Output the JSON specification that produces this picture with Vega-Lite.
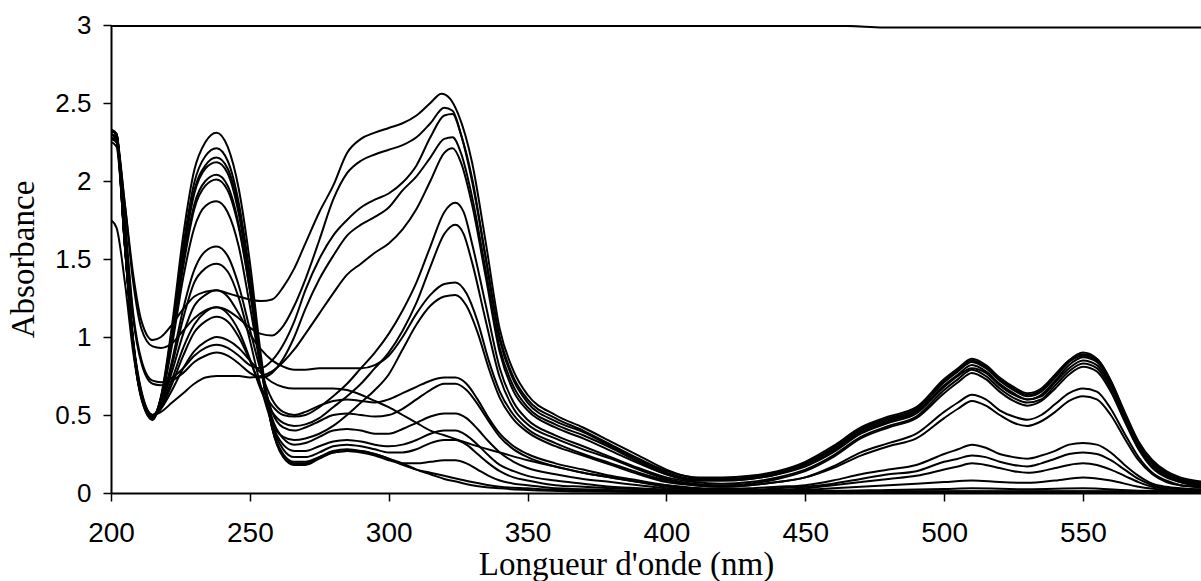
{
  "$schema": "https://vega.github.io/schema/vega-lite/v6.json",
  "width": 1090,
  "height": 468,
  "autosize": {"type": "none"},
  "padding": {"left": 111, "top": 25, "right": 0, "bottom": 88},
  "background": "white",
  "config": {"view": {"stroke": null}},
  "data": {"values": [
    {"s":"c0","w":200,"a":2.994},{"s":"c0","w":465,"a":2.994},{"s":"c0","w":478,"a":2.984},{"s":"c0","w":595,"a":2.984},

    {"s":"c1","w":200,"a":2.3},{"s":"c1","w":202,"a":2.28},{"s":"c1","w":205,"a":1.6},{"s":"c1","w":208,"a":0.95},{"s":"c1","w":211,"a":0.61},{"s":"c1","w":215,"a":0.48},{"s":"c1","w":218,"a":0.62},{"s":"c1","w":222,"a":1.08},{"s":"c1","w":226,"a":1.65},{"s":"c1","w":230,"a":2.07},{"s":"c1","w":234,"a":2.25},{"s":"c1","w":238,"a":2.31},{"s":"c1","w":242,"a":2.22},{"s":"c1","w":246,"a":1.95},{"s":"c1","w":250,"a":1.48},{"s":"c1","w":254,"a":0.88},{"s":"c1","w":258,"a":0.42},{"s":"c1","w":262,"a":0.23},{"s":"c1","w":266,"a":0.18},{"s":"c1","w":270,"a":0.18},{"s":"c1","w":275,"a":0.22},{"s":"c1","w":280,"a":0.26},{"s":"c1","w":285,"a":0.27},{"s":"c1","w":290,"a":0.27},{"s":"c1","w":295,"a":0.25},{"s":"c1","w":300,"a":0.22},{"s":"c1","w":305,"a":0.19},{"s":"c1","w":310,"a":0.15},{"s":"c1","w":315,"a":0.12},{"s":"c1","w":320,"a":0.09},{"s":"c1","w":325,"a":0.07},{"s":"c1","w":330,"a":0.05},{"s":"c1","w":340,"a":0.03},{"s":"c1","w":350,"a":0.02},{"s":"c1","w":370,"a":0.01},{"s":"c1","w":400,"a":0.005},{"s":"c1","w":595,"a":0.005},

    {"s":"c2","w":200,"a":2.27},{"s":"c2","w":202,"a":2.25},{"s":"c2","w":205,"a":1.58},{"s":"c2","w":208,"a":0.94},{"s":"c2","w":211,"a":0.6},{"s":"c2","w":215,"a":0.47},{"s":"c2","w":218,"a":0.61},{"s":"c2","w":222,"a":1.05},{"s":"c2","w":226,"a":1.58},{"s":"c2","w":230,"a":1.99},{"s":"c2","w":234,"a":2.16},{"s":"c2","w":238,"a":2.21},{"s":"c2","w":242,"a":2.13},{"s":"c2","w":246,"a":1.86},{"s":"c2","w":250,"a":1.4},{"s":"c2","w":254,"a":0.84},{"s":"c2","w":258,"a":0.42},{"s":"c2","w":262,"a":0.24},{"s":"c2","w":266,"a":0.19},{"s":"c2","w":270,"a":0.19},{"s":"c2","w":275,"a":0.23},{"s":"c2","w":280,"a":0.27},{"s":"c2","w":285,"a":0.28},{"s":"c2","w":290,"a":0.27},{"s":"c2","w":295,"a":0.25},{"s":"c2","w":300,"a":0.22},{"s":"c2","w":305,"a":0.18},{"s":"c2","w":310,"a":0.15},{"s":"c2","w":315,"a":0.13},{"s":"c2","w":320,"a":0.11},{"s":"c2","w":325,"a":0.09},{"s":"c2","w":330,"a":0.07},{"s":"c2","w":340,"a":0.04},{"s":"c2","w":350,"a":0.03},{"s":"c2","w":370,"a":0.015},{"s":"c2","w":400,"a":0.01},{"s":"c2","w":595,"a":0.01},

    {"s":"c3","w":200,"a":2.33},{"s":"c3","w":202,"a":2.3},{"s":"c3","w":205,"a":1.6},{"s":"c3","w":208,"a":0.95},{"s":"c3","w":211,"a":0.61},{"s":"c3","w":215,"a":0.47},{"s":"c3","w":218,"a":0.6},{"s":"c3","w":222,"a":1.02},{"s":"c3","w":226,"a":1.54},{"s":"c3","w":230,"a":1.94},{"s":"c3","w":234,"a":2.1},{"s":"c3","w":238,"a":2.15},{"s":"c3","w":242,"a":2.08},{"s":"c3","w":246,"a":1.82},{"s":"c3","w":250,"a":1.37},{"s":"c3","w":254,"a":0.82},{"s":"c3","w":258,"a":0.42},{"s":"c3","w":262,"a":0.25},{"s":"c3","w":266,"a":0.2},{"s":"c3","w":270,"a":0.2},{"s":"c3","w":275,"a":0.23},{"s":"c3","w":280,"a":0.26},{"s":"c3","w":285,"a":0.27},{"s":"c3","w":290,"a":0.26},{"s":"c3","w":295,"a":0.24},{"s":"c3","w":300,"a":0.21},{"s":"c3","w":305,"a":0.19},{"s":"c3","w":310,"a":0.19},{"s":"c3","w":315,"a":0.2},{"s":"c3","w":320,"a":0.21},{"s":"c3","w":324,"a":0.21},{"s":"c3","w":328,"a":0.19},{"s":"c3","w":332,"a":0.15},{"s":"c3","w":336,"a":0.11},{"s":"c3","w":340,"a":0.08},{"s":"c3","w":345,"a":0.06},{"s":"c3","w":350,"a":0.05},{"s":"c3","w":360,"a":0.03},{"s":"c3","w":380,"a":0.02},{"s":"c3","w":400,"a":0.012},{"s":"c3","w":595,"a":0.012},

    {"s":"c4","w":200,"a":2.3},{"s":"c4","w":202,"a":2.28},{"s":"c4","w":205,"a":1.6},{"s":"c4","w":208,"a":0.95},{"s":"c4","w":211,"a":0.62},{"s":"c4","w":215,"a":0.48},{"s":"c4","w":218,"a":0.61},{"s":"c4","w":222,"a":1.02},{"s":"c4","w":226,"a":1.53},{"s":"c4","w":230,"a":1.92},{"s":"c4","w":234,"a":2.08},{"s":"c4","w":238,"a":2.12},{"s":"c4","w":242,"a":2.05},{"s":"c4","w":246,"a":1.79},{"s":"c4","w":250,"a":1.35},{"s":"c4","w":254,"a":0.82},{"s":"c4","w":258,"a":0.44},{"s":"c4","w":262,"a":0.28},{"s":"c4","w":266,"a":0.23},{"s":"c4","w":270,"a":0.23},{"s":"c4","w":275,"a":0.26},{"s":"c4","w":280,"a":0.3},{"s":"c4","w":285,"a":0.31},{"s":"c4","w":290,"a":0.3},{"s":"c4","w":295,"a":0.28},{"s":"c4","w":300,"a":0.26},{"s":"c4","w":305,"a":0.26},{"s":"c4","w":310,"a":0.28},{"s":"c4","w":315,"a":0.32},{"s":"c4","w":320,"a":0.34},{"s":"c4","w":324,"a":0.34},{"s":"c4","w":328,"a":0.31},{"s":"c4","w":332,"a":0.25},{"s":"c4","w":336,"a":0.19},{"s":"c4","w":340,"a":0.14},{"s":"c4","w":345,"a":0.1},{"s":"c4","w":350,"a":0.08},{"s":"c4","w":360,"a":0.05},{"s":"c4","w":370,"a":0.04},{"s":"c4","w":380,"a":0.03},{"s":"c4","w":400,"a":0.02},{"s":"c4","w":420,"a":0.012},{"s":"c4","w":460,"a":0.014},{"s":"c4","w":480,"a":0.02},{"s":"c4","w":500,"a":0.025},{"s":"c4","w":510,"a":0.03},{"s":"c4","w":530,"a":0.024},{"s":"c4","w":550,"a":0.03},{"s":"c4","w":570,"a":0.014},{"s":"c4","w":595,"a":0.01},

    {"s":"c5","w":200,"a":2.28},{"s":"c5","w":202,"a":2.26},{"s":"c5","w":205,"a":1.58},{"s":"c5","w":208,"a":0.95},{"s":"c5","w":211,"a":0.62},{"s":"c5","w":215,"a":0.48},{"s":"c5","w":218,"a":0.6},{"s":"c5","w":222,"a":0.99},{"s":"c5","w":226,"a":1.48},{"s":"c5","w":230,"a":1.85},{"s":"c5","w":234,"a":2.0},{"s":"c5","w":238,"a":2.04},{"s":"c5","w":242,"a":1.97},{"s":"c5","w":246,"a":1.72},{"s":"c5","w":250,"a":1.3},{"s":"c5","w":254,"a":0.8},{"s":"c5","w":258,"a":0.45},{"s":"c5","w":262,"a":0.31},{"s":"c5","w":266,"a":0.27},{"s":"c5","w":270,"a":0.27},{"s":"c5","w":275,"a":0.3},{"s":"c5","w":280,"a":0.33},{"s":"c5","w":285,"a":0.34},{"s":"c5","w":290,"a":0.33},{"s":"c5","w":295,"a":0.31},{"s":"c5","w":300,"a":0.3},{"s":"c5","w":305,"a":0.31},{"s":"c5","w":310,"a":0.34},{"s":"c5","w":315,"a":0.38},{"s":"c5","w":320,"a":0.4},{"s":"c5","w":324,"a":0.4},{"s":"c5","w":328,"a":0.37},{"s":"c5","w":332,"a":0.31},{"s":"c5","w":336,"a":0.24},{"s":"c5","w":340,"a":0.18},{"s":"c5","w":345,"a":0.14},{"s":"c5","w":350,"a":0.11},{"s":"c5","w":360,"a":0.08},{"s":"c5","w":370,"a":0.06},{"s":"c5","w":380,"a":0.04},{"s":"c5","w":390,"a":0.03},{"s":"c5","w":400,"a":0.02},{"s":"c5","w":420,"a":0.012},{"s":"c5","w":440,"a":0.015},{"s":"c5","w":460,"a":0.03},{"s":"c5","w":470,"a":0.04},{"s":"c5","w":480,"a":0.05},{"s":"c5","w":490,"a":0.06},{"s":"c5","w":500,"a":0.07},{"s":"c5","w":510,"a":0.08},{"s":"c5","w":520,"a":0.07},{"s":"c5","w":530,"a":0.065},{"s":"c5","w":540,"a":0.08},{"s":"c5","w":550,"a":0.1},{"s":"c5","w":560,"a":0.08},{"s":"c5","w":570,"a":0.04},{"s":"c5","w":580,"a":0.02},{"s":"c5","w":595,"a":0.01},

    {"s":"c6","w":200,"a":2.32},{"s":"c6","w":202,"a":2.3},{"s":"c6","w":205,"a":1.62},{"s":"c6","w":208,"a":0.97},{"s":"c6","w":211,"a":0.63},{"s":"c6","w":215,"a":0.49},{"s":"c6","w":218,"a":0.6},{"s":"c6","w":222,"a":0.98},{"s":"c6","w":226,"a":1.45},{"s":"c6","w":230,"a":1.82},{"s":"c6","w":234,"a":1.97},{"s":"c6","w":238,"a":2.01},{"s":"c6","w":242,"a":1.94},{"s":"c6","w":246,"a":1.7},{"s":"c6","w":250,"a":1.3},{"s":"c6","w":254,"a":0.82},{"s":"c6","w":258,"a":0.48},{"s":"c6","w":262,"a":0.35},{"s":"c6","w":266,"a":0.31},{"s":"c6","w":270,"a":0.32},{"s":"c6","w":275,"a":0.36},{"s":"c6","w":280,"a":0.4},{"s":"c6","w":285,"a":0.41},{"s":"c6","w":290,"a":0.4},{"s":"c6","w":295,"a":0.38},{"s":"c6","w":300,"a":0.38},{"s":"c6","w":305,"a":0.41},{"s":"c6","w":310,"a":0.45},{"s":"c6","w":315,"a":0.49},{"s":"c6","w":320,"a":0.51},{"s":"c6","w":324,"a":0.51},{"s":"c6","w":328,"a":0.48},{"s":"c6","w":332,"a":0.41},{"s":"c6","w":336,"a":0.33},{"s":"c6","w":340,"a":0.26},{"s":"c6","w":345,"a":0.2},{"s":"c6","w":350,"a":0.16},{"s":"c6","w":360,"a":0.12},{"s":"c6","w":370,"a":0.09},{"s":"c6","w":380,"a":0.07},{"s":"c6","w":390,"a":0.05},{"s":"c6","w":400,"a":0.03},{"s":"c6","w":420,"a":0.02},{"s":"c6","w":440,"a":0.02},{"s":"c6","w":450,"a":0.03},{"s":"c6","w":460,"a":0.05},{"s":"c6","w":470,"a":0.07},{"s":"c6","w":480,"a":0.09},{"s":"c6","w":490,"a":0.11},{"s":"c6","w":500,"a":0.15},{"s":"c6","w":505,"a":0.17},{"s":"c6","w":510,"a":0.19},{"s":"c6","w":515,"a":0.18},{"s":"c6","w":520,"a":0.16},{"s":"c6","w":525,"a":0.14},{"s":"c6","w":530,"a":0.13},{"s":"c6","w":535,"a":0.14},{"s":"c6","w":540,"a":0.16},{"s":"c6","w":545,"a":0.18},{"s":"c6","w":550,"a":0.19},{"s":"c6","w":555,"a":0.18},{"s":"c6","w":560,"a":0.15},{"s":"c6","w":565,"a":0.11},{"s":"c6","w":570,"a":0.07},{"s":"c6","w":575,"a":0.04},{"s":"c6","w":580,"a":0.03},{"s":"c6","w":595,"a":0.02},

    {"s":"c7","w":200,"a":2.3},{"s":"c7","w":202,"a":2.28},{"s":"c7","w":205,"a":1.6},{"s":"c7","w":208,"a":0.96},{"s":"c7","w":211,"a":0.62},{"s":"c7","w":215,"a":0.49},{"s":"c7","w":218,"a":0.6},{"s":"c7","w":222,"a":0.95},{"s":"c7","w":226,"a":1.38},{"s":"c7","w":230,"a":1.7},{"s":"c7","w":234,"a":1.84},{"s":"c7","w":238,"a":1.87},{"s":"c7","w":242,"a":1.8},{"s":"c7","w":246,"a":1.58},{"s":"c7","w":250,"a":1.2},{"s":"c7","w":254,"a":0.8},{"s":"c7","w":258,"a":0.52},{"s":"c7","w":262,"a":0.42},{"s":"c7","w":266,"a":0.4},{"s":"c7","w":270,"a":0.42},{"s":"c7","w":275,"a":0.46},{"s":"c7","w":280,"a":0.5},{"s":"c7","w":285,"a":0.51},{"s":"c7","w":290,"a":0.5},{"s":"c7","w":295,"a":0.49},{"s":"c7","w":300,"a":0.5},{"s":"c7","w":305,"a":0.54},{"s":"c7","w":310,"a":0.6},{"s":"c7","w":315,"a":0.66},{"s":"c7","w":320,"a":0.7},{"s":"c7","w":324,"a":0.7},{"s":"c7","w":328,"a":0.66},{"s":"c7","w":332,"a":0.57},{"s":"c7","w":336,"a":0.46},{"s":"c7","w":340,"a":0.36},{"s":"c7","w":345,"a":0.28},{"s":"c7","w":350,"a":0.23},{"s":"c7","w":360,"a":0.17},{"s":"c7","w":370,"a":0.13},{"s":"c7","w":380,"a":0.1},{"s":"c7","w":390,"a":0.07},{"s":"c7","w":400,"a":0.04},{"s":"c7","w":410,"a":0.03},{"s":"c7","w":420,"a":0.02},{"s":"c7","w":430,"a":0.02},{"s":"c7","w":440,"a":0.03},{"s":"c7","w":450,"a":0.04},{"s":"c7","w":460,"a":0.06},{"s":"c7","w":470,"a":0.09},{"s":"c7","w":480,"a":0.12},{"s":"c7","w":490,"a":0.14},{"s":"c7","w":500,"a":0.2},{"s":"c7","w":505,"a":0.22},{"s":"c7","w":510,"a":0.24},{"s":"c7","w":515,"a":0.23},{"s":"c7","w":520,"a":0.2},{"s":"c7","w":525,"a":0.18},{"s":"c7","w":530,"a":0.17},{"s":"c7","w":535,"a":0.19},{"s":"c7","w":540,"a":0.22},{"s":"c7","w":545,"a":0.25},{"s":"c7","w":550,"a":0.26},{"s":"c7","w":555,"a":0.25},{"s":"c7","w":560,"a":0.21},{"s":"c7","w":565,"a":0.15},{"s":"c7","w":570,"a":0.09},{"s":"c7","w":575,"a":0.05},{"s":"c7","w":580,"a":0.03},{"s":"c7","w":595,"a":0.02},

    {"s":"c8","w":200,"a":2.32},{"s":"c8","w":202,"a":2.3},{"s":"c8","w":205,"a":1.6},{"s":"c8","w":208,"a":0.96},{"s":"c8","w":211,"a":0.63},{"s":"c8","w":215,"a":0.49},{"s":"c8","w":218,"a":0.58},{"s":"c8","w":222,"a":0.85},{"s":"c8","w":226,"a":1.18},{"s":"c8","w":230,"a":1.43},{"s":"c8","w":234,"a":1.55},{"s":"c8","w":238,"a":1.58},{"s":"c8","w":242,"a":1.52},{"s":"c8","w":246,"a":1.33},{"s":"c8","w":250,"a":1.05},{"s":"c8","w":254,"a":0.78},{"s":"c8","w":258,"a":0.6},{"s":"c8","w":262,"a":0.52},{"s":"c8","w":266,"a":0.5},{"s":"c8","w":270,"a":0.52},{"s":"c8","w":275,"a":0.56},{"s":"c8","w":280,"a":0.59},{"s":"c8","w":285,"a":0.6},{"s":"c8","w":290,"a":0.59},{"s":"c8","w":295,"a":0.58},{"s":"c8","w":300,"a":0.6},{"s":"c8","w":305,"a":0.64},{"s":"c8","w":310,"a":0.68},{"s":"c8","w":315,"a":0.72},{"s":"c8","w":320,"a":0.74},{"s":"c8","w":324,"a":0.74},{"s":"c8","w":328,"a":0.7},{"s":"c8","w":332,"a":0.6},{"s":"c8","w":336,"a":0.48},{"s":"c8","w":340,"a":0.38},{"s":"c8","w":345,"a":0.3},{"s":"c8","w":350,"a":0.25},{"s":"c8","w":360,"a":0.19},{"s":"c8","w":370,"a":0.15},{"s":"c8","w":380,"a":0.11},{"s":"c8","w":390,"a":0.08},{"s":"c8","w":400,"a":0.05},{"s":"c8","w":410,"a":0.03},{"s":"c8","w":420,"a":0.025},{"s":"c8","w":430,"a":0.03},{"s":"c8","w":440,"a":0.04},{"s":"c8","w":450,"a":0.05},{"s":"c8","w":460,"a":0.08},{"s":"c8","w":470,"a":0.12},{"s":"c8","w":480,"a":0.15},{"s":"c8","w":490,"a":0.18},{"s":"c8","w":500,"a":0.25},{"s":"c8","w":505,"a":0.28},{"s":"c8","w":510,"a":0.31},{"s":"c8","w":515,"a":0.29},{"s":"c8","w":520,"a":0.25},{"s":"c8","w":525,"a":0.23},{"s":"c8","w":530,"a":0.22},{"s":"c8","w":535,"a":0.24},{"s":"c8","w":540,"a":0.27},{"s":"c8","w":545,"a":0.31},{"s":"c8","w":550,"a":0.32},{"s":"c8","w":555,"a":0.31},{"s":"c8","w":560,"a":0.26},{"s":"c8","w":565,"a":0.18},{"s":"c8","w":570,"a":0.11},{"s":"c8","w":575,"a":0.06},{"s":"c8","w":580,"a":0.04},{"s":"c8","w":585,"a":0.03},{"s":"c8","w":595,"a":0.02},

    {"s":"c9","w":200,"a":2.3},{"s":"c9","w":202,"a":2.27},{"s":"c9","w":205,"a":1.58},{"s":"c9","w":208,"a":0.95},{"s":"c9","w":211,"a":0.62},{"s":"c9","w":215,"a":0.49},{"s":"c9","w":218,"a":0.57},{"s":"c9","w":222,"a":0.82},{"s":"c9","w":226,"a":1.12},{"s":"c9","w":230,"a":1.35},{"s":"c9","w":234,"a":1.44},{"s":"c9","w":238,"a":1.47},{"s":"c9","w":242,"a":1.42},{"s":"c9","w":246,"a":1.25},{"s":"c9","w":250,"a":0.98},{"s":"c9","w":254,"a":0.68},{"s":"c9","w":258,"a":0.45},{"s":"c9","w":262,"a":0.36},{"s":"c9","w":266,"a":0.34},{"s":"c9","w":270,"a":0.35},{"s":"c9","w":275,"a":0.38},{"s":"c9","w":280,"a":0.43},{"s":"c9","w":285,"a":0.5},{"s":"c9","w":290,"a":0.58},{"s":"c9","w":295,"a":0.66},{"s":"c9","w":300,"a":0.76},{"s":"c9","w":305,"a":0.92},{"s":"c9","w":310,"a":1.08},{"s":"c9","w":315,"a":1.2},{"s":"c9","w":320,"a":1.26},{"s":"c9","w":324,"a":1.27},{"s":"c9","w":328,"a":1.2},{"s":"c9","w":332,"a":1.03},{"s":"c9","w":336,"a":0.8},{"s":"c9","w":340,"a":0.61},{"s":"c9","w":345,"a":0.47},{"s":"c9","w":350,"a":0.39},{"s":"c9","w":360,"a":0.3},{"s":"c9","w":370,"a":0.24},{"s":"c9","w":380,"a":0.18},{"s":"c9","w":390,"a":0.12},{"s":"c9","w":400,"a":0.07},{"s":"c9","w":410,"a":0.05},{"s":"c9","w":420,"a":0.04},{"s":"c9","w":430,"a":0.05},{"s":"c9","w":440,"a":0.07},{"s":"c9","w":450,"a":0.1},{"s":"c9","w":460,"a":0.16},{"s":"c9","w":470,"a":0.24},{"s":"c9","w":480,"a":0.3},{"s":"c9","w":490,"a":0.35},{"s":"c9","w":500,"a":0.48},{"s":"c9","w":505,"a":0.54},{"s":"c9","w":510,"a":0.59},{"s":"c9","w":515,"a":0.56},{"s":"c9","w":520,"a":0.5},{"s":"c9","w":525,"a":0.45},{"s":"c9","w":530,"a":0.43},{"s":"c9","w":535,"a":0.46},{"s":"c9","w":540,"a":0.52},{"s":"c9","w":545,"a":0.59},{"s":"c9","w":550,"a":0.62},{"s":"c9","w":555,"a":0.6},{"s":"c9","w":560,"a":0.5},{"s":"c9","w":565,"a":0.35},{"s":"c9","w":570,"a":0.21},{"s":"c9","w":575,"a":0.12},{"s":"c9","w":580,"a":0.07},{"s":"c9","w":585,"a":0.05},{"s":"c9","w":590,"a":0.04},{"s":"c9","w":595,"a":0.03},

    {"s":"c10","w":200,"a":2.28},{"s":"c10","w":202,"a":2.25},{"s":"c10","w":205,"a":1.58},{"s":"c10","w":208,"a":0.95},{"s":"c10","w":211,"a":0.63},{"s":"c10","w":215,"a":0.5},{"s":"c10","w":218,"a":0.57},{"s":"c10","w":222,"a":0.78},{"s":"c10","w":226,"a":1.02},{"s":"c10","w":230,"a":1.2},{"s":"c10","w":234,"a":1.27},{"s":"c10","w":238,"a":1.3},{"s":"c10","w":242,"a":1.26},{"s":"c10","w":246,"a":1.15},{"s":"c10","w":250,"a":1.02},{"s":"c10","w":254,"a":0.92},{"s":"c10","w":258,"a":0.85},{"s":"c10","w":262,"a":0.81},{"s":"c10","w":266,"a":0.79},{"s":"c10","w":270,"a":0.79},{"s":"c10","w":275,"a":0.8},{"s":"c10","w":280,"a":0.8},{"s":"c10","w":285,"a":0.8},{"s":"c10","w":290,"a":0.8},{"s":"c10","w":295,"a":0.82},{"s":"c10","w":300,"a":0.88},{"s":"c10","w":305,"a":1.0},{"s":"c10","w":310,"a":1.15},{"s":"c10","w":315,"a":1.27},{"s":"c10","w":320,"a":1.34},{"s":"c10","w":324,"a":1.35},{"s":"c10","w":328,"a":1.28},{"s":"c10","w":332,"a":1.1},{"s":"c10","w":336,"a":0.85},{"s":"c10","w":340,"a":0.65},{"s":"c10","w":345,"a":0.5},{"s":"c10","w":350,"a":0.41},{"s":"c10","w":360,"a":0.32},{"s":"c10","w":370,"a":0.25},{"s":"c10","w":380,"a":0.19},{"s":"c10","w":390,"a":0.13},{"s":"c10","w":400,"a":0.08},{"s":"c10","w":410,"a":0.05},{"s":"c10","w":420,"a":0.04},{"s":"c10","w":430,"a":0.05},{"s":"c10","w":440,"a":0.07},{"s":"c10","w":450,"a":0.1},{"s":"c10","w":460,"a":0.17},{"s":"c10","w":470,"a":0.26},{"s":"c10","w":480,"a":0.32},{"s":"c10","w":490,"a":0.38},{"s":"c10","w":500,"a":0.52},{"s":"c10","w":505,"a":0.58},{"s":"c10","w":510,"a":0.63},{"s":"c10","w":515,"a":0.6},{"s":"c10","w":520,"a":0.53},{"s":"c10","w":525,"a":0.49},{"s":"c10","w":530,"a":0.47},{"s":"c10","w":535,"a":0.5},{"s":"c10","w":540,"a":0.57},{"s":"c10","w":545,"a":0.64},{"s":"c10","w":550,"a":0.67},{"s":"c10","w":555,"a":0.65},{"s":"c10","w":560,"a":0.54},{"s":"c10","w":565,"a":0.38},{"s":"c10","w":570,"a":0.23},{"s":"c10","w":575,"a":0.13},{"s":"c10","w":580,"a":0.08},{"s":"c10","w":585,"a":0.05},{"s":"c10","w":590,"a":0.04},{"s":"c10","w":595,"a":0.03},

    {"s":"c11","w":200,"a":2.33},{"s":"c11","w":202,"a":2.3},{"s":"c11","w":205,"a":1.62},{"s":"c11","w":208,"a":0.97},{"s":"c11","w":211,"a":0.64},{"s":"c11","w":215,"a":0.5},{"s":"c11","w":218,"a":0.56},{"s":"c11","w":222,"a":0.73},{"s":"c11","w":226,"a":0.93},{"s":"c11","w":230,"a":1.08},{"s":"c11","w":234,"a":1.16},{"s":"c11","w":238,"a":1.19},{"s":"c11","w":242,"a":1.15},{"s":"c11","w":246,"a":1.04},{"s":"c11","w":250,"a":0.86},{"s":"c11","w":254,"a":0.66},{"s":"c11","w":258,"a":0.52},{"s":"c11","w":262,"a":0.45},{"s":"c11","w":266,"a":0.43},{"s":"c11","w":270,"a":0.44},{"s":"c11","w":275,"a":0.48},{"s":"c11","w":280,"a":0.55},{"s":"c11","w":285,"a":0.62},{"s":"c11","w":290,"a":0.7},{"s":"c11","w":295,"a":0.8},{"s":"c11","w":300,"a":0.9},{"s":"c11","w":305,"a":1.04},{"s":"c11","w":310,"a":1.22},{"s":"c11","w":315,"a":1.45},{"s":"c11","w":320,"a":1.66},{"s":"c11","w":324,"a":1.72},{"s":"c11","w":327,"a":1.66},{"s":"c11","w":330,"a":1.48},{"s":"c11","w":335,"a":1.1},{"s":"c11","w":340,"a":0.74},{"s":"c11","w":345,"a":0.54},{"s":"c11","w":350,"a":0.44},{"s":"c11","w":360,"a":0.35},{"s":"c11","w":370,"a":0.28},{"s":"c11","w":380,"a":0.22},{"s":"c11","w":390,"a":0.15},{"s":"c11","w":400,"a":0.09},{"s":"c11","w":410,"a":0.06},{"s":"c11","w":420,"a":0.05},{"s":"c11","w":430,"a":0.06},{"s":"c11","w":440,"a":0.09},{"s":"c11","w":450,"a":0.14},{"s":"c11","w":460,"a":0.23},{"s":"c11","w":470,"a":0.35},{"s":"c11","w":480,"a":0.42},{"s":"c11","w":490,"a":0.48},{"s":"c11","w":500,"a":0.64},{"s":"c11","w":505,"a":0.71},{"s":"c11","w":510,"a":0.77},{"s":"c11","w":515,"a":0.73},{"s":"c11","w":520,"a":0.65},{"s":"c11","w":525,"a":0.59},{"s":"c11","w":530,"a":0.56},{"s":"c11","w":535,"a":0.59},{"s":"c11","w":540,"a":0.67},{"s":"c11","w":545,"a":0.76},{"s":"c11","w":550,"a":0.81},{"s":"c11","w":555,"a":0.78},{"s":"c11","w":560,"a":0.65},{"s":"c11","w":565,"a":0.46},{"s":"c11","w":570,"a":0.28},{"s":"c11","w":575,"a":0.16},{"s":"c11","w":580,"a":0.1},{"s":"c11","w":585,"a":0.07},{"s":"c11","w":590,"a":0.05},{"s":"c11","w":595,"a":0.04},

    {"s":"c12","w":200,"a":2.3},{"s":"c12","w":202,"a":2.28},{"s":"c12","w":205,"a":1.6},{"s":"c12","w":208,"a":0.96},{"s":"c12","w":211,"a":0.63},{"s":"c12","w":215,"a":0.5},{"s":"c12","w":218,"a":0.55},{"s":"c12","w":222,"a":0.7},{"s":"c12","w":226,"a":0.88},{"s":"c12","w":230,"a":1.03},{"s":"c12","w":234,"a":1.1},{"s":"c12","w":238,"a":1.13},{"s":"c12","w":242,"a":1.1},{"s":"c12","w":246,"a":1.0},{"s":"c12","w":250,"a":0.85},{"s":"c12","w":254,"a":0.68},{"s":"c12","w":258,"a":0.56},{"s":"c12","w":262,"a":0.5},{"s":"c12","w":266,"a":0.49},{"s":"c12","w":270,"a":0.5},{"s":"c12","w":275,"a":0.55},{"s":"c12","w":280,"a":0.62},{"s":"c12","w":285,"a":0.7},{"s":"c12","w":290,"a":0.8},{"s":"c12","w":295,"a":0.9},{"s":"c12","w":300,"a":1.02},{"s":"c12","w":305,"a":1.17},{"s":"c12","w":310,"a":1.35},{"s":"c12","w":315,"a":1.58},{"s":"c12","w":320,"a":1.8},{"s":"c12","w":324,"a":1.86},{"s":"c12","w":327,"a":1.8},{"s":"c12","w":330,"a":1.6},{"s":"c12","w":335,"a":1.2},{"s":"c12","w":340,"a":0.8},{"s":"c12","w":345,"a":0.58},{"s":"c12","w":350,"a":0.47},{"s":"c12","w":360,"a":0.37},{"s":"c12","w":370,"a":0.3},{"s":"c12","w":380,"a":0.23},{"s":"c12","w":390,"a":0.16},{"s":"c12","w":400,"a":0.1},{"s":"c12","w":410,"a":0.07},{"s":"c12","w":420,"a":0.06},{"s":"c12","w":430,"a":0.07},{"s":"c12","w":440,"a":0.1},{"s":"c12","w":450,"a":0.15},{"s":"c12","w":460,"a":0.24},{"s":"c12","w":470,"a":0.36},{"s":"c12","w":480,"a":0.43},{"s":"c12","w":490,"a":0.49},{"s":"c12","w":500,"a":0.66},{"s":"c12","w":505,"a":0.73},{"s":"c12","w":510,"a":0.79},{"s":"c12","w":515,"a":0.75},{"s":"c12","w":520,"a":0.67},{"s":"c12","w":525,"a":0.61},{"s":"c12","w":530,"a":0.58},{"s":"c12","w":535,"a":0.6},{"s":"c12","w":540,"a":0.69},{"s":"c12","w":545,"a":0.78},{"s":"c12","w":550,"a":0.83},{"s":"c12","w":555,"a":0.8},{"s":"c12","w":560,"a":0.67},{"s":"c12","w":565,"a":0.47},{"s":"c12","w":570,"a":0.29},{"s":"c12","w":575,"a":0.17},{"s":"c12","w":580,"a":0.11},{"s":"c12","w":585,"a":0.07},{"s":"c12","w":590,"a":0.05},{"s":"c12","w":595,"a":0.04},

    {"s":"c13","w":200,"a":2.25},{"s":"c13","w":202,"a":2.22},{"s":"c13","w":205,"a":1.6},{"s":"c13","w":208,"a":0.98},{"s":"c13","w":211,"a":0.65},{"s":"c13","w":215,"a":0.5},{"s":"c13","w":218,"a":0.52},{"s":"c13","w":222,"a":0.58},{"s":"c13","w":226,"a":0.64},{"s":"c13","w":230,"a":0.7},{"s":"c13","w":234,"a":0.74},{"s":"c13","w":238,"a":0.75},{"s":"c13","w":242,"a":0.75},{"s":"c13","w":246,"a":0.75},{"s":"c13","w":250,"a":0.74},{"s":"c13","w":254,"a":0.75},{"s":"c13","w":258,"a":0.78},{"s":"c13","w":262,"a":0.84},{"s":"c13","w":266,"a":0.92},{"s":"c13","w":270,"a":1.02},{"s":"c13","w":275,"a":1.15},{"s":"c13","w":280,"a":1.28},{"s":"c13","w":285,"a":1.4},{"s":"c13","w":290,"a":1.47},{"s":"c13","w":295,"a":1.54},{"s":"c13","w":300,"a":1.6},{"s":"c13","w":305,"a":1.69},{"s":"c13","w":310,"a":1.82},{"s":"c13","w":315,"a":2.0},{"s":"c13","w":320,"a":2.18},{"s":"c13","w":323,"a":2.21},{"s":"c13","w":326,"a":2.12},{"s":"c13","w":330,"a":1.85},{"s":"c13","w":335,"a":1.38},{"s":"c13","w":340,"a":0.9},{"s":"c13","w":345,"a":0.65},{"s":"c13","w":350,"a":0.53},{"s":"c13","w":360,"a":0.42},{"s":"c13","w":370,"a":0.35},{"s":"c13","w":380,"a":0.27},{"s":"c13","w":390,"a":0.19},{"s":"c13","w":400,"a":0.12},{"s":"c13","w":410,"a":0.08},{"s":"c13","w":420,"a":0.08},{"s":"c13","w":430,"a":0.09},{"s":"c13","w":440,"a":0.12},{"s":"c13","w":450,"a":0.17},{"s":"c13","w":460,"a":0.26},{"s":"c13","w":470,"a":0.38},{"s":"c13","w":480,"a":0.45},{"s":"c13","w":490,"a":0.51},{"s":"c13","w":500,"a":0.68},{"s":"c13","w":505,"a":0.75},{"s":"c13","w":510,"a":0.8},{"s":"c13","w":515,"a":0.77},{"s":"c13","w":520,"a":0.69},{"s":"c13","w":525,"a":0.63},{"s":"c13","w":530,"a":0.6},{"s":"c13","w":535,"a":0.62},{"s":"c13","w":540,"a":0.71},{"s":"c13","w":545,"a":0.8},{"s":"c13","w":550,"a":0.85},{"s":"c13","w":555,"a":0.82},{"s":"c13","w":560,"a":0.69},{"s":"c13","w":565,"a":0.49},{"s":"c13","w":570,"a":0.3},{"s":"c13","w":575,"a":0.18},{"s":"c13","w":580,"a":0.12},{"s":"c13","w":585,"a":0.08},{"s":"c13","w":590,"a":0.06},{"s":"c13","w":595,"a":0.05},

    {"s":"c14","w":200,"a":2.3},{"s":"c14","w":202,"a":2.28},{"s":"c14","w":205,"a":1.72},{"s":"c14","w":208,"a":1.12},{"s":"c14","w":211,"a":0.83},{"s":"c14","w":215,"a":0.7},{"s":"c14","w":218,"a":0.69},{"s":"c14","w":222,"a":0.72},{"s":"c14","w":226,"a":0.77},{"s":"c14","w":230,"a":0.84},{"s":"c14","w":234,"a":0.88},{"s":"c14","w":238,"a":0.9},{"s":"c14","w":242,"a":0.88},{"s":"c14","w":246,"a":0.83},{"s":"c14","w":250,"a":0.77},{"s":"c14","w":254,"a":0.74},{"s":"c14","w":258,"a":0.77},{"s":"c14","w":262,"a":0.86},{"s":"c14","w":266,"a":1.0},{"s":"c14","w":270,"a":1.18},{"s":"c14","w":275,"a":1.37},{"s":"c14","w":280,"a":1.52},{"s":"c14","w":285,"a":1.65},{"s":"c14","w":290,"a":1.72},{"s":"c14","w":295,"a":1.77},{"s":"c14","w":300,"a":1.83},{"s":"c14","w":305,"a":1.94},{"s":"c14","w":310,"a":2.03},{"s":"c14","w":315,"a":2.15},{"s":"c14","w":320,"a":2.27},{"s":"c14","w":323,"a":2.28},{"s":"c14","w":326,"a":2.18},{"s":"c14","w":330,"a":1.9},{"s":"c14","w":335,"a":1.42},{"s":"c14","w":340,"a":0.93},{"s":"c14","w":345,"a":0.68},{"s":"c14","w":350,"a":0.55},{"s":"c14","w":360,"a":0.44},{"s":"c14","w":370,"a":0.37},{"s":"c14","w":380,"a":0.29},{"s":"c14","w":390,"a":0.2},{"s":"c14","w":400,"a":0.12},{"s":"c14","w":410,"a":0.08},{"s":"c14","w":420,"a":0.08},{"s":"c14","w":430,"a":0.09},{"s":"c14","w":440,"a":0.12},{"s":"c14","w":450,"a":0.18},{"s":"c14","w":460,"a":0.27},{"s":"c14","w":470,"a":0.39},{"s":"c14","w":480,"a":0.46},{"s":"c14","w":490,"a":0.52},{"s":"c14","w":500,"a":0.69},{"s":"c14","w":505,"a":0.76},{"s":"c14","w":510,"a":0.82},{"s":"c14","w":515,"a":0.78},{"s":"c14","w":520,"a":0.7},{"s":"c14","w":525,"a":0.64},{"s":"c14","w":530,"a":0.6},{"s":"c14","w":535,"a":0.63},{"s":"c14","w":540,"a":0.72},{"s":"c14","w":545,"a":0.82},{"s":"c14","w":550,"a":0.87},{"s":"c14","w":555,"a":0.84},{"s":"c14","w":560,"a":0.7},{"s":"c14","w":565,"a":0.5},{"s":"c14","w":570,"a":0.31},{"s":"c14","w":575,"a":0.19},{"s":"c14","w":580,"a":0.12},{"s":"c14","w":585,"a":0.08},{"s":"c14","w":590,"a":0.06},{"s":"c14","w":595,"a":0.05},

    {"s":"c15","w":200,"a":2.32},{"s":"c15","w":202,"a":2.3},{"s":"c15","w":205,"a":1.75},{"s":"c15","w":208,"a":1.15},{"s":"c15","w":211,"a":0.85},{"s":"c15","w":215,"a":0.72},{"s":"c15","w":218,"a":0.71},{"s":"c15","w":222,"a":0.74},{"s":"c15","w":226,"a":0.8},{"s":"c15","w":230,"a":0.88},{"s":"c15","w":234,"a":0.93},{"s":"c15","w":238,"a":0.95},{"s":"c15","w":242,"a":0.93},{"s":"c15","w":246,"a":0.88},{"s":"c15","w":250,"a":0.82},{"s":"c15","w":254,"a":0.8},{"s":"c15","w":258,"a":0.85},{"s":"c15","w":262,"a":0.95},{"s":"c15","w":266,"a":1.1},{"s":"c15","w":270,"a":1.3},{"s":"c15","w":275,"a":1.5},{"s":"c15","w":280,"a":1.65},{"s":"c15","w":285,"a":1.75},{"s":"c15","w":290,"a":1.83},{"s":"c15","w":295,"a":1.88},{"s":"c15","w":300,"a":1.92},{"s":"c15","w":305,"a":1.99},{"s":"c15","w":310,"a":2.1},{"s":"c15","w":315,"a":2.28},{"s":"c15","w":320,"a":2.42},{"s":"c15","w":323,"a":2.43},{"s":"c15","w":326,"a":2.3},{"s":"c15","w":330,"a":2.02},{"s":"c15","w":335,"a":1.5},{"s":"c15","w":340,"a":0.98},{"s":"c15","w":345,"a":0.72},{"s":"c15","w":350,"a":0.58},{"s":"c15","w":360,"a":0.46},{"s":"c15","w":370,"a":0.39},{"s":"c15","w":380,"a":0.3},{"s":"c15","w":390,"a":0.21},{"s":"c15","w":400,"a":0.13},{"s":"c15","w":410,"a":0.09},{"s":"c15","w":420,"a":0.09},{"s":"c15","w":430,"a":0.1},{"s":"c15","w":440,"a":0.13},{"s":"c15","w":450,"a":0.19},{"s":"c15","w":460,"a":0.28},{"s":"c15","w":470,"a":0.4},{"s":"c15","w":480,"a":0.47},{"s":"c15","w":490,"a":0.53},{"s":"c15","w":500,"a":0.71},{"s":"c15","w":505,"a":0.78},{"s":"c15","w":510,"a":0.84},{"s":"c15","w":515,"a":0.8},{"s":"c15","w":520,"a":0.72},{"s":"c15","w":525,"a":0.66},{"s":"c15","w":530,"a":0.62},{"s":"c15","w":535,"a":0.65},{"s":"c15","w":540,"a":0.74},{"s":"c15","w":545,"a":0.84},{"s":"c15","w":550,"a":0.88},{"s":"c15","w":555,"a":0.85},{"s":"c15","w":560,"a":0.71},{"s":"c15","w":565,"a":0.5},{"s":"c15","w":570,"a":0.32},{"s":"c15","w":575,"a":0.2},{"s":"c15","w":580,"a":0.13},{"s":"c15","w":585,"a":0.09},{"s":"c15","w":590,"a":0.07},{"s":"c15","w":595,"a":0.06},

    {"s":"c16","w":200,"a":2.3},{"s":"c16","w":202,"a":2.27},{"s":"c16","w":205,"a":1.85},{"s":"c16","w":208,"a":1.35},{"s":"c16","w":211,"a":1.05},{"s":"c16","w":215,"a":0.94},{"s":"c16","w":218,"a":0.93},{"s":"c16","w":222,"a":0.96},{"s":"c16","w":226,"a":1.04},{"s":"c16","w":230,"a":1.12},{"s":"c16","w":234,"a":1.17},{"s":"c16","w":238,"a":1.19},{"s":"c16","w":242,"a":1.17},{"s":"c16","w":246,"a":1.12},{"s":"c16","w":250,"a":1.06},{"s":"c16","w":254,"a":1.02},{"s":"c16","w":258,"a":1.01},{"s":"c16","w":262,"a":1.07},{"s":"c16","w":266,"a":1.2},{"s":"c16","w":270,"a":1.37},{"s":"c16","w":275,"a":1.62},{"s":"c16","w":280,"a":1.88},{"s":"c16","w":285,"a":2.05},{"s":"c16","w":290,"a":2.13},{"s":"c16","w":295,"a":2.17},{"s":"c16","w":300,"a":2.2},{"s":"c16","w":305,"a":2.23},{"s":"c16","w":310,"a":2.28},{"s":"c16","w":315,"a":2.37},{"s":"c16","w":320,"a":2.47},{"s":"c16","w":323,"a":2.45},{"s":"c16","w":326,"a":2.3},{"s":"c16","w":330,"a":2.0},{"s":"c16","w":335,"a":1.5},{"s":"c16","w":340,"a":1.0},{"s":"c16","w":345,"a":0.74},{"s":"c16","w":350,"a":0.6},{"s":"c16","w":360,"a":0.48},{"s":"c16","w":370,"a":0.4},{"s":"c16","w":380,"a":0.31},{"s":"c16","w":390,"a":0.22},{"s":"c16","w":400,"a":0.14},{"s":"c16","w":410,"a":0.1},{"s":"c16","w":420,"a":0.09},{"s":"c16","w":430,"a":0.1},{"s":"c16","w":440,"a":0.13},{"s":"c16","w":450,"a":0.19},{"s":"c16","w":460,"a":0.29},{"s":"c16","w":470,"a":0.41},{"s":"c16","w":480,"a":0.48},{"s":"c16","w":490,"a":0.54},{"s":"c16","w":500,"a":0.72},{"s":"c16","w":505,"a":0.79},{"s":"c16","w":510,"a":0.85},{"s":"c16","w":515,"a":0.81},{"s":"c16","w":520,"a":0.73},{"s":"c16","w":525,"a":0.67},{"s":"c16","w":530,"a":0.63},{"s":"c16","w":535,"a":0.66},{"s":"c16","w":540,"a":0.75},{"s":"c16","w":545,"a":0.85},{"s":"c16","w":550,"a":0.9},{"s":"c16","w":555,"a":0.86},{"s":"c16","w":560,"a":0.72},{"s":"c16","w":565,"a":0.52},{"s":"c16","w":570,"a":0.33},{"s":"c16","w":575,"a":0.21},{"s":"c16","w":580,"a":0.14},{"s":"c16","w":585,"a":0.1},{"s":"c16","w":590,"a":0.08},{"s":"c16","w":595,"a":0.07},

    {"s":"c17","w":200,"a":2.28},{"s":"c17","w":202,"a":2.25},{"s":"c17","w":205,"a":1.85},{"s":"c17","w":208,"a":1.4},{"s":"c17","w":211,"a":1.1},{"s":"c17","w":215,"a":0.98},{"s":"c17","w":218,"a":1.0},{"s":"c17","w":222,"a":1.08},{"s":"c17","w":226,"a":1.18},{"s":"c17","w":230,"a":1.26},{"s":"c17","w":234,"a":1.29},{"s":"c17","w":238,"a":1.3},{"s":"c17","w":242,"a":1.28},{"s":"c17","w":246,"a":1.26},{"s":"c17","w":250,"a":1.24},{"s":"c17","w":254,"a":1.23},{"s":"c17","w":258,"a":1.24},{"s":"c17","w":262,"a":1.32},{"s":"c17","w":266,"a":1.44},{"s":"c17","w":270,"a":1.6},{"s":"c17","w":275,"a":1.8},{"s":"c17","w":280,"a":1.97},{"s":"c17","w":285,"a":2.18},{"s":"c17","w":290,"a":2.27},{"s":"c17","w":295,"a":2.31},{"s":"c17","w":300,"a":2.34},{"s":"c17","w":305,"a":2.37},{"s":"c17","w":310,"a":2.42},{"s":"c17","w":315,"a":2.5},{"s":"c17","w":319,"a":2.56},{"s":"c17","w":322,"a":2.53},{"s":"c17","w":325,"a":2.43},{"s":"c17","w":330,"a":2.12},{"s":"c17","w":335,"a":1.6},{"s":"c17","w":340,"a":1.05},{"s":"c17","w":345,"a":0.78},{"s":"c17","w":350,"a":0.63},{"s":"c17","w":360,"a":0.5},{"s":"c17","w":370,"a":0.42},{"s":"c17","w":380,"a":0.33},{"s":"c17","w":390,"a":0.24},{"s":"c17","w":400,"a":0.15},{"s":"c17","w":410,"a":0.1},{"s":"c17","w":420,"a":0.1},{"s":"c17","w":430,"a":0.11},{"s":"c17","w":440,"a":0.14},{"s":"c17","w":450,"a":0.2},{"s":"c17","w":460,"a":0.3},{"s":"c17","w":470,"a":0.42},{"s":"c17","w":480,"a":0.49},{"s":"c17","w":490,"a":0.55},{"s":"c17","w":500,"a":0.73},{"s":"c17","w":505,"a":0.8},{"s":"c17","w":510,"a":0.86},{"s":"c17","w":515,"a":0.82},{"s":"c17","w":520,"a":0.74},{"s":"c17","w":525,"a":0.68},{"s":"c17","w":530,"a":0.64},{"s":"c17","w":535,"a":0.67},{"s":"c17","w":540,"a":0.76},{"s":"c17","w":545,"a":0.85},{"s":"c17","w":550,"a":0.89},{"s":"c17","w":555,"a":0.86},{"s":"c17","w":560,"a":0.72},{"s":"c17","w":565,"a":0.51},{"s":"c17","w":570,"a":0.32},{"s":"c17","w":575,"a":0.2},{"s":"c17","w":580,"a":0.13},{"s":"c17","w":585,"a":0.09},{"s":"c17","w":590,"a":0.07},{"s":"c17","w":595,"a":0.06},

    {"s":"c18","w":200,"a":1.75},{"s":"c18","w":202,"a":1.7},{"s":"c18","w":205,"a":1.35},{"s":"c18","w":208,"a":0.9},{"s":"c18","w":211,"a":0.61},{"s":"c18","w":215,"a":0.49},{"s":"c18","w":218,"a":0.54},{"s":"c18","w":222,"a":0.66},{"s":"c18","w":226,"a":0.8},{"s":"c18","w":230,"a":0.91},{"s":"c18","w":234,"a":0.97},{"s":"c18","w":238,"a":1.0},{"s":"c18","w":242,"a":0.98},{"s":"c18","w":246,"a":0.93},{"s":"c18","w":250,"a":0.85},{"s":"c18","w":254,"a":0.77},{"s":"c18","w":258,"a":0.71},{"s":"c18","w":262,"a":0.68},{"s":"c18","w":266,"a":0.67},{"s":"c18","w":270,"a":0.67},{"s":"c18","w":275,"a":0.67},{"s":"c18","w":280,"a":0.67},{"s":"c18","w":285,"a":0.66},{"s":"c18","w":290,"a":0.63},{"s":"c18","w":295,"a":0.59},{"s":"c18","w":300,"a":0.55},{"s":"c18","w":305,"a":0.5},{"s":"c18","w":310,"a":0.45},{"s":"c18","w":315,"a":0.4},{"s":"c18","w":320,"a":0.37},{"s":"c18","w":325,"a":0.34},{"s":"c18","w":330,"a":0.31},{"s":"c18","w":340,"a":0.26},{"s":"c18","w":350,"a":0.21},{"s":"c18","w":360,"a":0.17},{"s":"c18","w":370,"a":0.13},{"s":"c18","w":380,"a":0.1},{"s":"c18","w":390,"a":0.07},{"s":"c18","w":400,"a":0.05},{"s":"c18","w":420,"a":0.02},{"s":"c18","w":440,"a":0.01},{"s":"c18","w":595,"a":0.005}
  ]},
  "mark": {"type": "line", "interpolate": "monotone", "color": "black", "strokeWidth": 2, "clip": true},
  "encoding": {
    "x": {
      "field": "w", "type": "quantitative",
      "scale": {"domain": [200, 592.5], "nice": false, "zero": false},
      "axis": {
        "values": [200, 250, 300, 350, 400, 450, 500, 550],
        "format": "d",
        "grid": false,
        "domainColor": "black", "domainWidth": 2,
        "tickColor": "black", "tickSize": 8, "tickWidth": 1.5,
        "labelFont": "Liberation Sans", "labelFontSize": 28, "labelColor": "black", "labelPadding": 18,
        "labelFlush": false, "labelOverlap": false,
        "title": "Longueur d'onde (nm)",
        "titleFont": "Liberation Serif", "titleFontSize": 33, "titleFontWeight": "normal", "titleColor": "black",
        "titleX": 515, "titleY": 81, "titleBaseline": "alphabetic", "titleAlign": "center"
      }
    },
    "y": {
      "field": "a", "type": "quantitative",
      "scale": {"domain": [0, 3], "nice": false},
      "axis": {
        "values": [0, 0.5, 1, 1.5, 2, 2.5, 3],
        "format": "~g",
        "grid": false,
        "domainColor": "black", "domainWidth": 2,
        "tickColor": "black", "tickSize": 8, "tickWidth": 1.5,
        "labelFont": "Liberation Sans", "labelFontSize": 26, "labelColor": "black", "labelPadding": 12,
        "labelFlush": false, "labelOverlap": false,
        "title": "Absorbance",
        "titleFont": "Liberation Serif", "titleFontSize": 33, "titleFontWeight": "normal", "titleColor": "black",
        "titleX": -78, "titleY": 234, "titleAngle": -90, "titleBaseline": "alphabetic", "titleAlign": "center"
      }
    },
    "detail": {"field": "s", "type": "nominal"}
  }
}
